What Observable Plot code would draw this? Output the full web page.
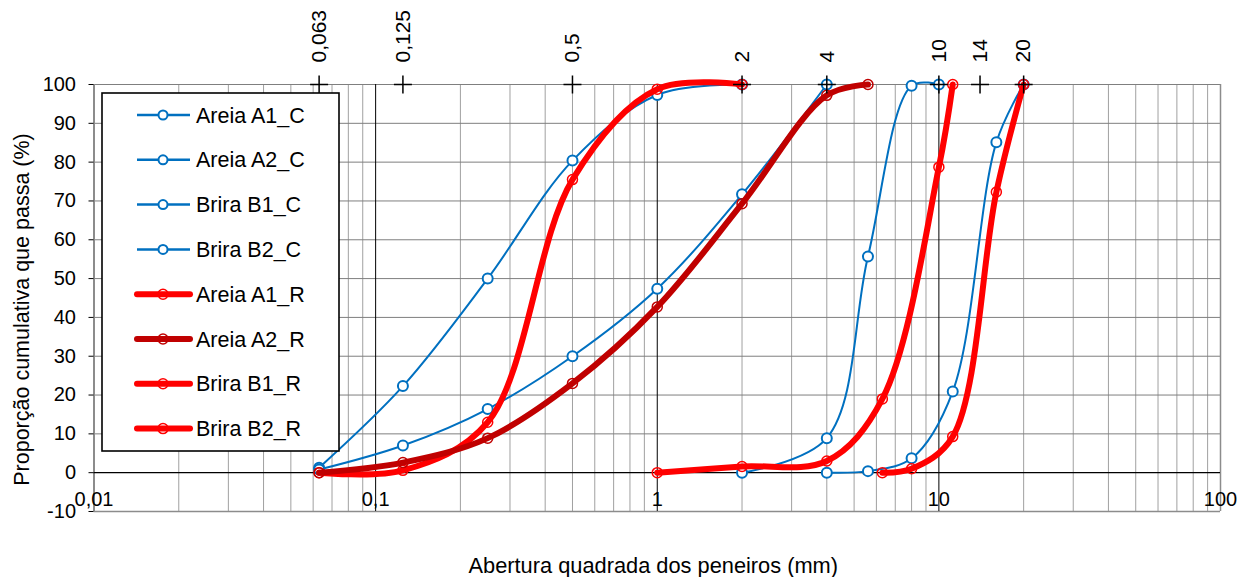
<!DOCTYPE html>
<html><head><meta charset="utf-8">
<script src="https://cdn.jsdelivr.net/npm/d3@7"></script>
<script src="https://cdn.jsdelivr.net/npm/@observablehq/plot@0.6"></script>
<style>
body{margin:0;background:#fff;}
#wrap{position:relative;width:1254px;height:577px;font-family:"Liberation Sans",Arial,sans-serif;}
#wrap svg.legend{position:absolute;left:0;top:0;pointer-events:none;}
</style>
</head><body><div id="wrap"></div>
<script>
// ---- data ----
const seriesNames = ["Areia A1_C","Areia A2_C","Brira B1_C","Brira B2_C","Areia A1_R","Areia A2_R","Brira B1_R","Brira B2_R"];
const sieveA1C = [0.063,0.125,0.25,0.5,1,2];
const passA1C  = [1.3,22.3,50,80.4,97.3,100];
const sieveA2C = [0.063,0.125,0.25,0.5,1,2,4];
const passA2C  = [0.8,7,16.4,30,47.4,71.7,100];
const sieveB1C = [2,4,5.6,8,10];
const passB1C  = [0,8.9,55.7,99.7,100];
const sieveB2C = [4,5.6,8,11.2,16,20];
const passB2C  = [0,0.4,3.7,20.9,85.1,100];
const sieveA1R = [0.063,0.125,0.25,0.5,1,2];
const passA1R  = [0,0.6,13,75.5,98.8,100];
const sieveA2R = [0.063,0.125,0.25,0.5,1,2,4,5.6];
const passA2R  = [0,2.6,8.9,23,42.7,69.3,97.2,100];
const sieveB1R = [1,2,4,6.3,10,11.2];
const passB1R  = [0,1.6,3,19,78.7,100];
const sieveB2R = [6.3,8,11.2,16,20];
const passB2R  = [0,1,9.3,72.3,100];

const xMajor = [0.01,0.1,1,10,100];
const xMajorLabels = ["0,01","0,1","1","10","100"];
const topSieves = [0.063,0.125,0.5,2,4,10,14,20];
const topSieveLabels = ["0,063","0,125","0,5","2","4","10","14","20"];
const yTicks = [-10,0,10,20,30,40,50,60,70,80,90,100];

const xTitle = "Abertura quadrada dos peneiros (mm)";
const yTitle = "Proporção cumulativa que passa (%)";

// ---- styles per series ----
const BLUE = "#0070C0", RED = "#FF0000", DARKRED = "#C00000";
const styles = [
  {stroke: BLUE, sw: 2, fill: "white", msw: 2},
  {stroke: BLUE, sw: 2, fill: "white", msw: 2},
  {stroke: BLUE, sw: 2, fill: "white", msw: 2},
  {stroke: BLUE, sw: 2, fill: "white", msw: 2},
  {stroke: RED, sw: 6, fill: "none", msw: 1.5},
  {stroke: DARKRED, sw: 6, fill: "none", msw: 1.5},
  {stroke: RED, sw: 6, fill: "none", msw: 1.5},
  {stroke: RED, sw: 6, fill: "none", msw: 1.5}
];
const sieves = [sieveA1C,sieveA2C,sieveB1C,sieveB2C,sieveA1R,sieveA2R,sieveB1R,sieveB2R];
const passes = [passA1C,passA2C,passB1C,passB2C,passA1R,passA2R,passB1R,passB2R];
const series = seriesNames.map((name,i)=>({
  name, ...styles[i],
  data: sieves[i].map((s,j)=>({x:s, y:passes[i][j]}))
}));

const minor = [];
for (const d of [0.01,0.1,1,10]) for (let k=2;k<=9;k++) minor.push(+(k*d).toPrecision(3));

const seriesMarks = [];
for (const s of series) {
  seriesMarks.push(Plot.line(s.data, {x:"x", y:"y", stroke:s.stroke, strokeWidth:s.sw, curve:"catmull-rom", strokeLinejoin:"round", strokeLinecap:"round"}));
  seriesMarks.push(Plot.dot(s.data, {x:"x", y:"y", r:5, stroke:s.stroke, fill:s.fill, strokeWidth:s.msw}));
}

const chart = Plot.plot({
  width: 1254, height: 577,
  marginLeft: 93.5, marginRight: 34, marginTop: 84, marginBottom: 66,
  style: {fontFamily: "Liberation Sans, Arial, sans-serif", fontSize: "20px", background: "white", color: "black", overflow: "visible"},
  x: {type: "log", domain: [0.01,100], axis: null},
  y: {domain: [-10,100], axis: null},
  marks: [
    Plot.ruleX(minor, {stroke:"#a0a0a0", strokeWidth:1}),
    Plot.ruleY(yTicks.filter(v=>v!==0 && v!==-10), {stroke:"#7f7f7f", strokeWidth:1}),
    Plot.ruleY([-10], {stroke:"#8c8c8c", strokeWidth:1.5}),
    Plot.ruleX([0.1,1,10], {stroke:"black", strokeWidth:1}),
    Plot.ruleX([0.01], {stroke:"#8c8c8c", strokeWidth:2}),
    Plot.ruleX([100], {stroke:"#8c8c8c", strokeWidth:1.5}),
    Plot.ruleY([0], {stroke:"black", strokeWidth:1.3}),
    Plot.axisY({ticks: yTicks, tickSize: 5, tickPadding: 13, label: null, fontSize: 20, stroke: "black", tickFormat: d=>String(d)}),
    Plot.text(xMajor, {x: d=>d, y: ()=>-10, text: (d,i)=>xMajorLabels[i], dy: -12, fontSize: 20, fill: "black"}),
    ...seriesMarks,
    Plot.dot(topSieves, {x: d=>d, y: ()=>100, symbol: "plus", r: 5.85, stroke: "black", strokeWidth: 1.5}),
    Plot.text(topSieves, {x: d=>d, y: ()=>100, text: (d,i)=>topSieveLabels[i], rotate: -90, textAnchor: "start", dy: -22, fontSize: 21, fill: "black"}),
    Plot.text([yTitle], {frameAnchor: "left", textAnchor: "middle", rotate: -90, lineAnchor: "bottom", dx: -65, dy: 11.5, fontSize: 21.5, fill: "black"}),
    Plot.text([xTitle], {frameAnchor: "bottom", textAnchor: "middle", lineAnchor: "bottom", dx: -4, dy: 61, fontSize: 21.8, fill: "black"})
  ]
});
const wrap = document.getElementById("wrap");
wrap.appendChild(chart);

// ---- legend (overlay in the plot area) ----
const lg = d3.create("svg").attr("class","legend").attr("width",1254).attr("height",577);
lg.append("rect").attr("x",102).attr("y",93).attr("width",237).attr("height",358)
  .attr("fill","white").attr("stroke","black").attr("stroke-width",1.6);
series.forEach((s,i)=>{
  const cy = 115 + i*44.8;
  lg.append("line").attr("x1",137).attr("x2",190).attr("y1",cy).attr("y2",cy)
    .attr("stroke",s.stroke).attr("stroke-width", s.sw>3 ? 6 : 2.5).attr("stroke-linecap", s.sw>3 ? "round":"butt");
  lg.append("circle").attr("cx",163).attr("cy",cy).attr("r", s.sw>3 ? 5 : 4.5)
    .attr("fill",s.fill).attr("stroke",s.stroke).attr("stroke-width",s.msw);
  lg.append("text").attr("x",196).attr("y",cy+7.5).attr("font-size",21.5)
    .attr("font-family","Liberation Sans, Arial, sans-serif").attr("fill","black").text(s.name);
});
wrap.appendChild(lg.node());
</script>
</body></html>
